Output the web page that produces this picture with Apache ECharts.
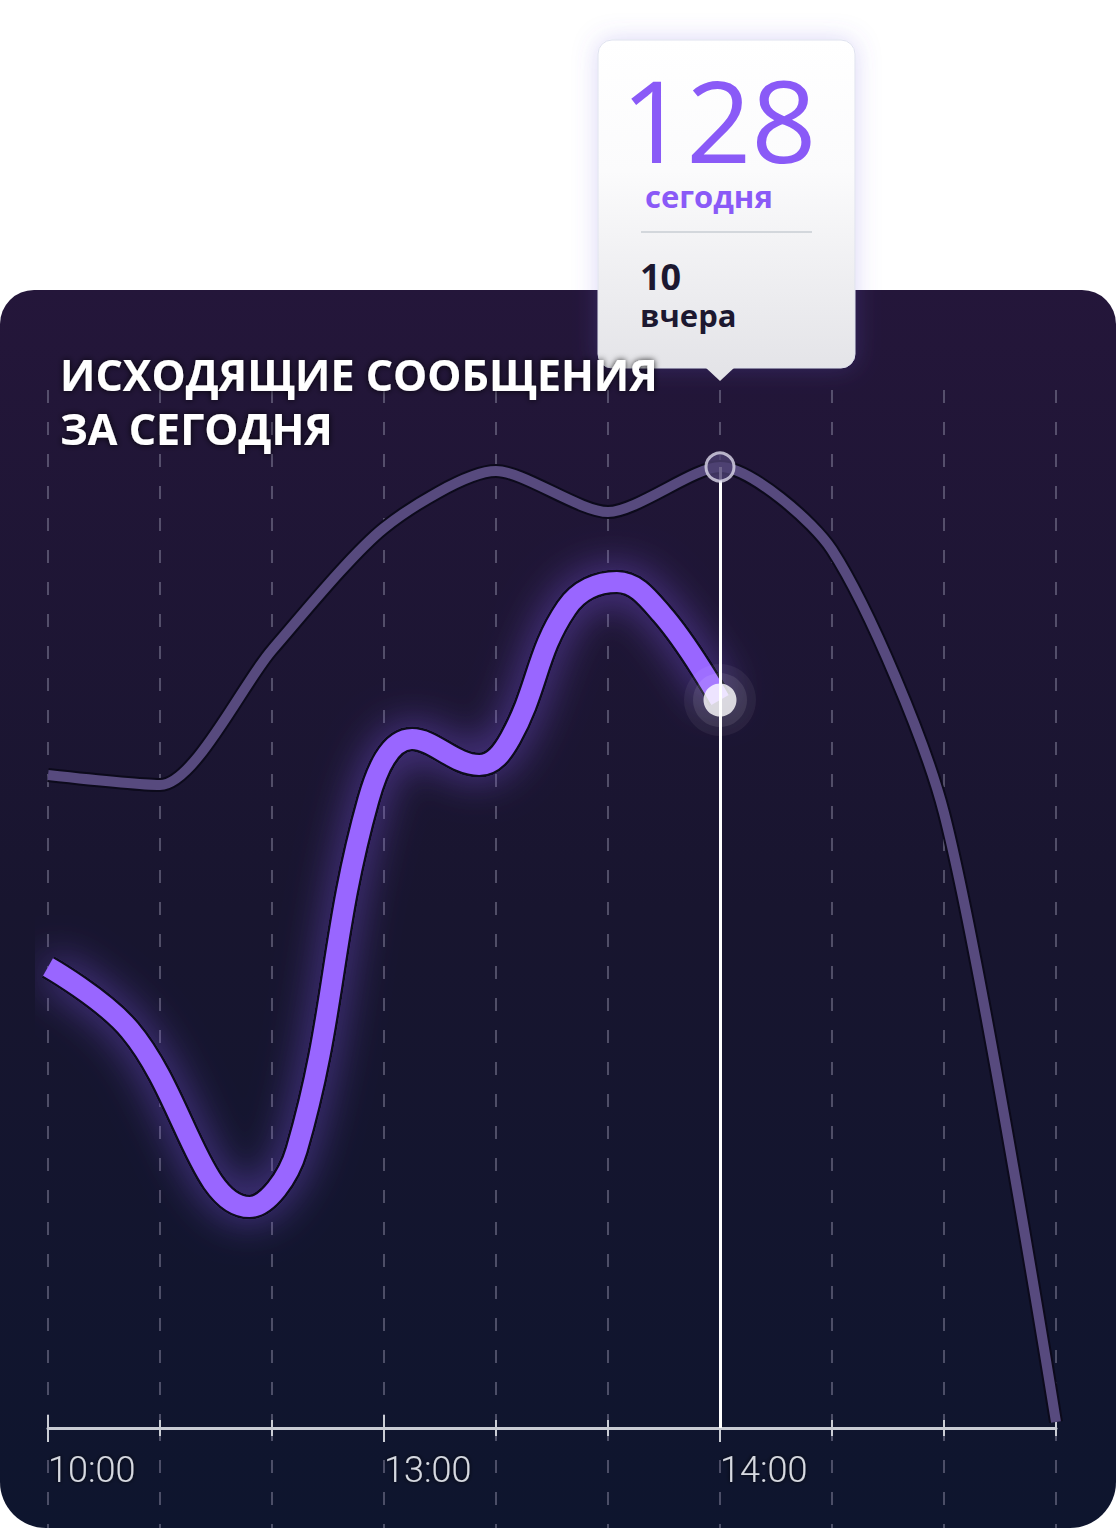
<!DOCTYPE html>
<html>
<head>
	<meta charset="UTF-8">
	<title>Исходящие сообщения за сегодня</title>
	<style>
		html, body {margin: 0; padding: 0; background: #fff;}
		#chart {width: 1116px; height: 1528px;}
	</style>
</head>
<body>
<div id="chart"></div>
<script src="https://cdn.jsdelivr.net/npm/echarts@6/dist/echarts.min.js"></script>
<script type="text/javascript">

    // подписи оси X (показываем только часы)
    var hours = ['10:00', '', '', '13:00', '', '', '14:00', '', '', ''];
    // сегодня - до текущего момента, [позиция на оси, значение]
    var today = [[0, 46.1], [0.73, 39.8], [1.8, 22.1], [2.22, 27.8], [2.86, 62.8],
                 [3.25, 68.9], [3.85, 66.3], [4.13, 69.0], [4.63, 82.0], [5.08, 84.6],
                 [5.48, 81.4], [6, 72.8]];
    // вчера - весь день, по часовым отметкам
    var yesterday = [65.3, 64.3, 77.8, 90.0, 95.7, 91.6, 96.1, 87.8, 61.5, 0.6];
    var current = 6;                 // отметка, на которой стоит курсор
    var todayTotal = '128';
    var yesterdayTotal = '10';

    var chart = echarts.init(document.getElementById('chart'), null, {renderer: 'svg'});

    var axisColor = '#c9ccd4';
    var bigTick = function (idx) { return hours[idx] !== ''; };
    var yesterdayPoints = yesterday.map(function (v, i) { return [i, v]; });
    var todayNow = today[today.length - 1];
    var dashStyle = {color: 'rgba(150,148,172,0.45)', width: 2, type: [13, 19]};

    // ось X в нескольких экземплярах - чтобы риски торчали в обе стороны
    function tickAxis(inside, len, interval, withLine) {
        return {
            type: 'category',
            gridIndex: 0,
            position: 'bottom',
            data: hours,
            boundaryGap: false,
            axisLine: {show: true, onZero: false, lineStyle: {color: axisColor, width: 3, opacity: withLine ? 1 : 0}},
            axisTick: {show: true, inside: inside, length: len, interval: interval, lineStyle: {color: axisColor, width: 2}},
            axisLabel: {show: false},
            splitLine: {show: false}
        };
    }

    var mainAxis = tickAxis(true, 8, 0, true);
    mainAxis.axisLabel = {
        show: true,
        interval: 0,
        align: 'left',
        verticalAlign: 'top',
        margin: 24,
        color: '#d6d9e0',
        fontSize: 36,
        fontWeight: 300,
        fontFamily: 'Roboto, Lato, sans-serif',
        textShadowColor: 'rgba(0,0,0,0.9)',
        textShadowBlur: 4
    };
    mainAxis.splitLine = {show: true, interval: 0, lineStyle: dashStyle};

    chart.setOption({
        backgroundColor: '#ffffff',
        animation: false,
        title: {
            text: 'ИСХОДЯЩИЕ СООБЩЕНИЯ\nЗА СЕГОДНЯ',
            left: 55,
            top: 342,
            textStyle: {
                color: '#ffffff',
                fontSize: 43,
                fontWeight: 'bold',
                fontFamily: '"Open Sans", sans-serif',
                lineHeight: 54,
                textShadowColor: 'rgba(0,0,0,0.85)',
                textShadowBlur: 6
            }
        },
        grid: [
            {left: 48, right: 60, top: 390, bottom: 100, containLabel: false, outerBoundsMode: 'none'},
            // полоска под осью - только пунктир
            {left: 48, right: 60, top: 1428, bottom: 0, containLabel: false, outerBoundsMode: 'none'}
        ],
        xAxis: [
            mainAxis,
            tickAxis(false, 8, 0, false),
            tickAxis(true, 13, bigTick, false),
            tickAxis(false, 14, bigTick, false),
            // скрытая числовая ось для линий
            {type: 'value', gridIndex: 0, min: 0, max: hours.length - 1, show: false},
            {
                type: 'category', gridIndex: 1, data: hours, boundaryGap: false,
                axisLine: {show: false}, axisTick: {show: false}, axisLabel: {show: false},
                splitLine: {show: true, interval: 0, lineStyle: dashStyle}
            }
        ],
        yAxis: [
            {type: 'value', gridIndex: 0, min: 0, max: 103.8, show: false},
            {type: 'value', gridIndex: 1, min: 0, max: 1, show: false}
        ],
        graphic: [
            {
                // тёмная карточка
                type: 'rect',
                z: -10,
                silent: true,
                shape: {x: 0, y: 290, width: 1116, height: 1238, r: [34, 34, 46, 46]},
                style: {
                    fill: new echarts.graphic.LinearGradient(0, 0, 0, 1, [
                        {offset: 0, color: '#24163a'},
                        {offset: 0.5, color: '#18152f'},
                        {offset: 1, color: '#0e152e'}
                    ])
                }
            },
            {
                // подсказка
                type: 'group',
                z: 100,
                children: [
                    {
                        type: 'rect',
                        shape: {x: 598, y: 40, width: 257, height: 328, r: 14},
                        style: {
                            fill: new echarts.graphic.LinearGradient(0, 0, 0, 1, [
                                {offset: 0, color: '#ffffff'},
                                {offset: 0.4, color: '#fbfbfc'},
                                {offset: 1, color: '#e4e4e8'}
                            ]),
                            stroke: '#dfe2ef',
                            lineWidth: 1,
                            shadowBlur: 24,
                            shadowColor: 'rgba(110,90,220,0.25)'
                        }
                    },
                    {
                        type: 'polygon',
                        shape: {points: [[705, 367], [735, 367], [720, 381]]},
                        style: {fill: '#e4e4e8'}
                    },
                    {
                        type: 'text',
                        x: 621, y: 118,
                        style: {
                            text: todayTotal, fill: '#8a5af7',
                            font: '500 114px "Open Sans", sans-serif',
                            lineHeight: 80,
                            verticalAlign: 'middle'
                        }
                    },
                    {
                        type: 'text',
                        x: 645, y: 196,
                        style: {
                            text: 'сегодня', fill: '#8a5af7',
                            font: 'bold 31px "Open Sans", sans-serif',
                            lineHeight: 30,
                            verticalAlign: 'middle'
                        }
                    },
                    {
                        type: 'line',
                        shape: {x1: 641, y1: 232, x2: 812, y2: 232},
                        style: {stroke: '#d3d7dc', lineWidth: 2}
                    },
                    {
                        type: 'text',
                        x: 640, y: 276,
                        style: {
                            text: yesterdayTotal, fill: '#1c1830',
                            font: 'bold 36px "Open Sans", sans-serif',
                            lineHeight: 32,
                            verticalAlign: 'middle'
                        }
                    },
                    {
                        type: 'text',
                        x: 640, y: 315,
                        style: {
                            text: 'вчера', fill: '#1c1830',
                            font: 'bold 31px "Open Sans", sans-serif',
                            lineHeight: 30,
                            verticalAlign: 'middle'
                        }
                    }
                ]
            }
        ],
        series: [
            {
                name: 'вчера-контур',
                type: 'line',
                xAxisIndex: 4,
                data: yesterdayPoints,
                smooth: 0.25,
                symbol: 'none',
                silent: true,
                lineStyle: {color: '#0c0a1b', width: 14}
            },
            {
                name: 'вчера',
                type: 'line',
                xAxisIndex: 4,
                data: yesterdayPoints,
                smooth: 0.25,
                symbol: 'none',
                lineStyle: {color: '#574a7e', width: 10},
                markLine: {
                    silent: true,
                    symbol: ['none', 'none'],
                    label: {show: false},
                    lineStyle: {color: '#ffffff', width: 3, type: 'solid'},
                    data: [[{coord: [current, yesterday[current]]}, {coord: [current, 0]}]]
                }
            },
            {
                name: 'сегодня-свечение',
                type: 'line',
                xAxisIndex: 4,
                data: today,
                smooth: 0.4,
                symbol: 'none',
                silent: true,
                lineStyle: {
                    color: '#0c0a1b', width: 25,
                    shadowBlur: 40, shadowColor: 'rgba(140,95,255,0.55)'
                }
            },
            {
                name: 'сегодня',
                type: 'line',
                xAxisIndex: 4,
                data: today,
                smooth: 0.4,
                symbol: 'none',
                lineStyle: {color: '#9966ff', width: 20}
            },
            {
                name: 'точки',
                type: 'scatter',
                xAxisIndex: 4,
                z: 5,
                silent: true,
                data: [
                    {value: [current, yesterday[current]], symbolSize: 28,
                        itemStyle: {color: '#4b3f6f', borderColor: '#dcd8ea', borderWidth: 3}},
                    {value: todayNow, symbolSize: 72,
                        itemStyle: {color: 'rgba(255,255,255,0.07)'}},
                    {value: todayNow, symbolSize: 54,
                        itemStyle: {color: 'rgba(255,255,255,0.12)'}},
                    {value: todayNow, symbolSize: 33,
                        itemStyle: {color: '#ffffff'}}
                ]
            }
        ]
    });

</script>
</body>
</html>
